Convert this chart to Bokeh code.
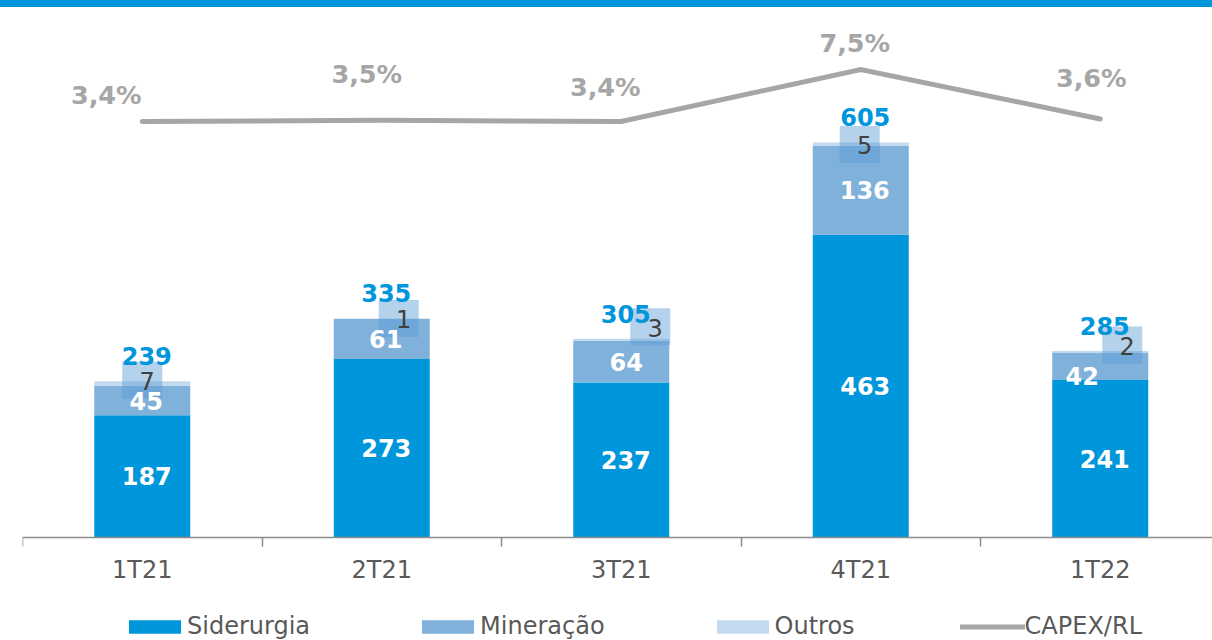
from bokeh.plotting import figure
from bokeh.layouts import column
from bokeh.models import (ColumnDataSource, Range1d, FixedTicker, Legend, LegendItem, Div)
from bokeh.core.properties import value
from bokeh.embed import file_html
from bokeh.resources import INLINE

# ---------------- data ----------------
categories = ["1T21", "2T21", "3T21", "4T21", "1T22"]
siderurgia = [187, 273, 237, 463, 241]
mineracao = [45, 61, 64, 136, 42]
outros = [7, 1, 3, 5, 2]
totais = [239, 335, 305, 605, 285]
capex_rl = [3.4, 3.5, 3.4, 7.5, 3.6]
capex_labels = ["3,4%", "3,5%", "3,4%", "7,5%", "3,6%"]

# ---------------- label placement (screen px, style only) ----------------
pct_dx = [-36, -15, -16, -6, -9]
pct_dy = [-27, -46, -35, -27, -41]
box_dx = [0, 17, 29, -1, 22]
box_dy = [-1, 0, -12, 2, -6]
min_dx = [4, 4, 5, 4, -18]
min_dy = [1, 0, 0, 0, 10]

# ---------------- layout ----------------
W, H = 1212, 640
BAND = 7
PH = H - BAND
FRAME_LEFT = 22
AXIS_Y = 537 - BAND          # pixel row of the category axis inside the figure
PX_PER_CAT = 239.5
PX_PER_UNIT = 0.654
LINE_REF_PX = 121 - BAND
PCT_REF, PCT_SCALE = 3.4, 12.68  # secondary axis calibration

BLUE = "#0096DB"
MIN_C = "#7FB1DB"
OUT_C = "#C2D9EF"
GRAY = "#A6A6A6"
TXT = "#595959"
FONT = "DejaVu Sans"

x = list(range(len(categories)))
sid_mid = [s / 2 for s in siderurgia]
sid_top = list(siderurgia)
min_top = [s + m for s, m in zip(siderurgia, mineracao)]
min_mid = [s + m / 2 for s, m in zip(siderurgia, mineracao)]
out_top = [a + o for a, o in zip(min_top, outros)]
box_x = [i + dx / PX_PER_CAT for i, dx in zip(x, box_dx)]
box_y = [t - dy / PX_PER_UNIT for t, dy in zip(out_top, box_dy)]

src = ColumnDataSource(dict(
    x=x, cat=categories, sid=siderurgia, mine=mineracao, out=outros,
    sid_mid=sid_mid, sid_top=sid_top, min_top=min_top, min_mid=min_mid,
    out_top=out_top, tot=totais, tot_txt=[str(t) for t in totais],
    sid_txt=[str(v) for v in siderurgia], min_txt=[str(v) for v in mineracao],
    out_txt=[str(v) for v in outros], box_x=box_x, box_y=box_y,
    capex=capex_rl, capex_txt=capex_labels,
    pct_dx=pct_dx, pct_dy=pct_dy, min_dx=min_dx, min_dy=min_dy,
    out_dx=[d + 5 for d in box_dx], out_dy=[d + 1 for d in box_dy],
))

y_start = -(PH - AXIS_Y) / PX_PER_UNIT
y_end = AXIS_Y / PX_PER_UNIT
x_end = -0.5 + (W - FRAME_LEFT) / PX_PER_CAT
pct_start = PCT_REF - (PH - LINE_REF_PX) / PCT_SCALE
pct_end = PCT_REF + LINE_REF_PX / PCT_SCALE

p = figure(width=W, height=PH, x_range=Range1d(-0.5, x_end), y_range=Range1d(y_start, y_end),
           output_backend="svg", toolbar_location=None, y_axis_location=None,
           min_border_left=FRAME_LEFT, min_border_right=0, min_border_top=0,
           min_border_bottom=0)
p.extra_y_ranges = {"pct": Range1d(pct_start, pct_end)}
p.outline_line_color = None
p.xgrid.visible = False
p.ygrid.visible = False
p.background_fill_color = "white"
p.border_fill_color = "white"

# x axis (drawn at value 0 inside the frame)
ax = p.xaxis[0]
ax.fixed_location = 0
ax.ticker = FixedTicker(ticks=x, minor_ticks=[i - 0.5 for i in range(len(x) + 1)])
ax.major_label_overrides = {i: c for i, c in enumerate(categories)}
ax.major_tick_line_color = None
ax.major_tick_in = 0
ax.major_tick_out = 9
ax.minor_tick_in = 0
ax.minor_tick_out = 9
ax.minor_tick_line_color = "#8C8C8C"
ax.axis_line_color = "#8C8C8C"
ax.axis_line_width = 1.5
ax.minor_tick_line_width = 1.5
ax.major_label_standoff = 9
ax.major_label_text_font = FONT
ax.major_label_text_font_size = "24px"
ax.major_label_text_color = TXT

# bars
bw = 96 / PX_PER_CAT
r_sid = p.vbar(x="x", bottom=0, top="sid_top", width=bw, source=src,
               fill_color=BLUE, line_color=None)
r_min = p.vbar(x="x", bottom="sid_top", top="min_top", width=bw, source=src,
               fill_color=MIN_C, line_color=None)
r_out = p.vbar(x="x", bottom="min_top", top="out_top", width=bw, source=src,
               fill_color=OUT_C, line_color=None)

# CAPEX/RL line
r_line = p.line(x="x", y="capex", source=src, y_range_name="pct", line_color=GRAY,
                line_width=5, line_cap="round", line_join="miter")

# Outros boxes
p.rect(x="box_x", y="box_y", width=40, height=37, width_units="screen",
       height_units="screen", source=src, fill_color="#5B9BD5", fill_alpha=0.45,
       line_color=None)

common = dict(text_align="center", text_baseline="middle", text_font=value(FONT))
p.text(x="x", y="sid_mid", text="sid_txt", source=src, x_offset=4.5,
       text_color="white", text_font_style="bold", text_font_size="24px", **common)
p.text(x="x", y="min_mid", text="min_txt", source=src, x_offset="min_dx", y_offset="min_dy",
       text_color="white", text_font_style="bold", text_font_size="24px", **common)
p.text(x="x", y="out_top", text="out_txt", source=src, x_offset="out_dx", y_offset="out_dy",
       text_color="#404040", text_font_size="24px", **common)
p.text(x="x", y="out_top", text="tot_txt", source=src, x_offset=4.5, y_offset=-25,
       text_color=BLUE, text_font_style="bold", text_font_size="24px", **common)
p.text(x="x", y="capex", text="capex_txt", source=src, y_range_name="pct",
       x_offset="pct_dx", y_offset="pct_dy", text_color=GRAY, text_font_style="bold",
       text_font_size="25.5px", **common)

legend = Legend(items=[LegendItem(label="Siderurgia", renderers=[r_sid]),
                       LegendItem(label="Mineração", renderers=[r_min]),
                       LegendItem(label="Outros", renderers=[r_out]),
                       LegendItem(label="CAPEX/RL", renderers=[r_line])],
                orientation="horizontal", location=(100, 0),
                padding=0, margin=0, spacing=105, glyph_width=65, glyph_height=17,
                label_standoff=0, label_text_font=FONT, label_text_font_size="24px",
                label_text_color=TXT, border_line_color=None, background_fill_alpha=0)
p.add_layout(legend)

band = Div(text="", width=W, height=BAND, margin=0,
           styles={"background-color": BLUE})
page = column(band, p, spacing=0, margin=0,
              styles={"position": "absolute", "left": "0px", "top": "0px"})

open("out.html", "w").write(file_html(page, INLINE))
